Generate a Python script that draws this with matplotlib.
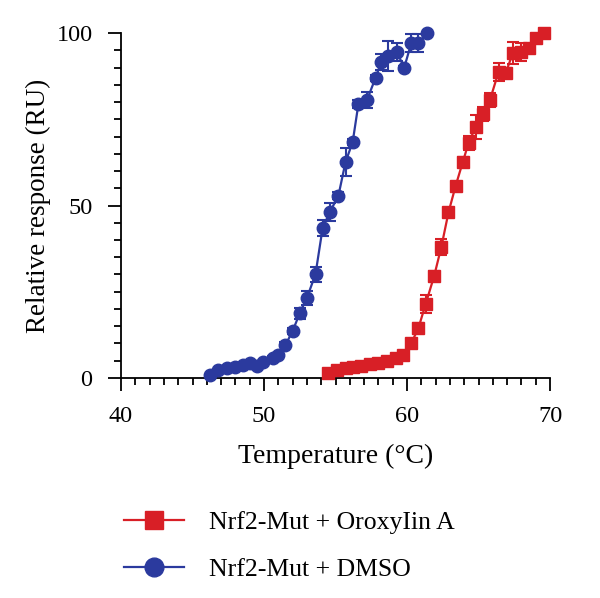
import matplotlib.pyplot as plt
from matplotlib.ticker import MultipleLocator

# melting curves
temp_dmso = [46.2, 46.8, 47.4, 48.0, 48.5, 49.0, 49.5, 49.9, 50.6, 51.0,
             51.5, 52.0, 52.5, 53.0, 53.6, 54.1, 54.6, 55.2, 55.7, 56.2,
             56.6, 57.2, 57.8, 58.2, 58.7, 59.3, 59.8, 60.3, 60.8, 61.4]
resp_dmso = [0.9, 2.3, 2.9, 3.2, 3.8, 4.3, 3.5, 4.6, 5.8, 6.7,
             9.6, 13.6, 18.8, 23.2, 30.1, 43.5, 48.1, 52.8, 62.6, 68.4,
             79.4, 80.6, 87.0, 91.6, 93.3, 94.5, 89.9, 97.1, 97.1, 100.0]
err_dmso = [0.3, 0.4, 0.4, 0.4, 0.4, 0.4, 0.4, 0.4, 0.5, 0.5,
            0.7, 0.8, 1.6, 2.0, 2.2, 2.3, 2.5, 1.0, 4.1, 1.0,
            1.2, 2.4, 0.8, 2.4, 4.4, 2.6, 0.5, 2.6, 2.6, 0.3]

temp_oro = [54.5, 55.1, 55.7, 56.2, 56.8, 57.4, 58.0, 58.6, 59.2, 59.7,
            60.3, 60.8, 61.3, 61.9, 62.4, 62.9, 63.4, 63.9, 64.3, 64.8,
            65.3, 65.8, 66.4, 66.9, 67.4, 68.0, 68.5, 69.0, 69.6]
resp_oro = [1.4, 2.3, 2.9, 3.2, 3.5, 4.1, 4.3, 4.9, 5.8, 6.7,
            10.1, 14.5, 21.4, 29.6, 38.0, 48.0, 55.7, 62.6, 68.1, 72.8,
            76.5, 80.6, 88.7, 88.4, 94.2, 94.5, 95.7, 98.6, 100.0]
err_oro = [0.3, 0.3, 0.3, 0.3, 0.3, 0.3, 0.3, 0.4, 0.4, 0.5,
           0.8, 1.5, 2.7, 1.5, 2.4, 1.0, 1.0, 1.5, 2.0, 3.5,
           2.0, 2.0, 2.5, 1.5, 3.1, 2.5, 1.0, 1.0, 0.3]

blue = '#2B3A9E'
red = '#D81F26'

plt.rcParams['font.family'] = ['Liberation Serif', 'DejaVu Serif']

fig = plt.figure(figsize=(6.0, 5.98), dpi=100)
ax = fig.add_axes([0.2017, 0.3679, 0.715, 0.5769])

for t, r, e, c, m, lab in [
        (temp_dmso, resp_dmso, err_dmso, blue, 'o', 'Nrf2-Mut + DMSO'),
        (temp_oro, resp_oro, err_oro, red, 's', 'Nrf2-Mut + OroxyIin A')]:
    ax.plot(t, r, color=c, marker=m, markersize=9, linewidth=1.6,
            label=lab, clip_on=False, zorder=3)
    ax.errorbar(t, r, yerr=e, fmt='none', ecolor=c, elinewidth=1.5,
                capsize=4.5, capthick=1.5, clip_on=False, zorder=4)

ax.set_xlim(40, 70)
ax.set_ylim(0, 100)
ax.xaxis.set_major_locator(MultipleLocator(10))
ax.xaxis.set_minor_locator(MultipleLocator(1))
ax.yaxis.set_major_locator(MultipleLocator(50))
ax.yaxis.set_minor_locator(MultipleLocator(5))
ax.tick_params(which='major', direction='out', length=9.5, width=1.3,
               labelsize=17.5, pad=11)
ax.tick_params(which='minor', direction='out', length=5, width=1.3)

for s in ['top', 'right']:
    ax.spines[s].set_visible(False)
for s in ['left', 'bottom']:
    ax.spines[s].set_linewidth(1.3)

ax.set_xlabel('Temperature (°C)', fontsize=20, labelpad=12)
ax.set_ylabel('Relative response (RU)', fontsize=19.5, labelpad=4)

h, l = ax.get_legend_handles_labels()
fig.legend(h[::-1], l[::-1], loc='center left', bbox_to_anchor=(0.168, 0.087),
           frameon=False, fontsize=18.5, handlelength=2.35, labelspacing=0.95,
           handletextpad=0.95, markerscale=1.5)

plt.savefig('out.png', dpi=100)
